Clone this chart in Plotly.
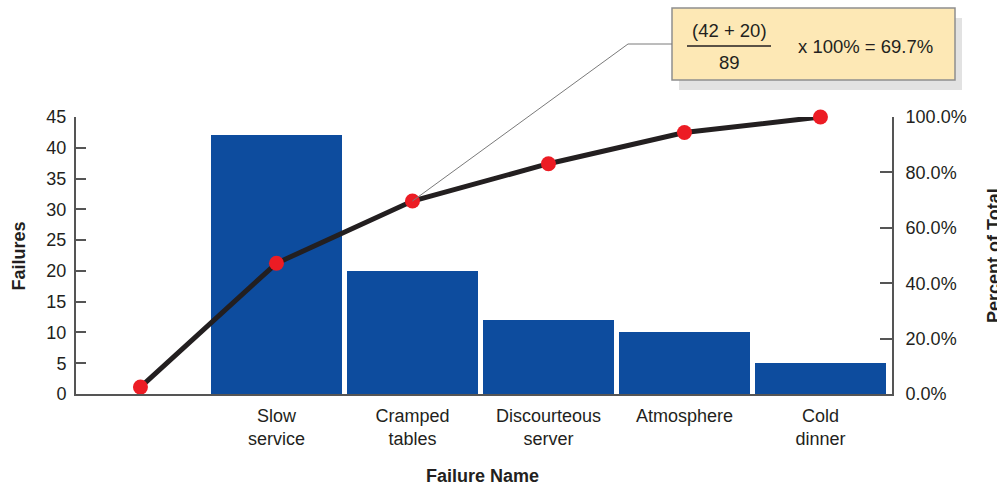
import plotly.graph_objects as go

# Restaurant failure counts (Pareto chart)
categories = ["Slow<br>service", "Cramped<br>tables", "Discourteous<br>server", "Atmosphere", "Cold<br>dinner"]
failures = [42, 20, 12, 10, 5]
start_pct = 2.5  # origin point of the cumulative curve
left_ticks = [0, 5, 10, 15, 20, 25, 30, 35, 40, 45]
right_ticks = [0, 20, 40, 60, 80, 100]

total = sum(failures)
cum_pct = []
running = 0
for v in failures:
    running += v
    cum_pct.append(running / total * 100)

bar_x = list(range(1, len(failures) + 1))
line_x = [0] + bar_x
line_y = [start_pct] + cum_pct

FONT = "Liberation Sans, Arial, Helvetica, sans-serif"
BLUE = "#0d4c9e"
RED = "#ec1c24"
AXIS = "#555555"
TXT = "#231f20"

n_slots = len(line_x)
x_range = [-0.474, n_slots - 0.474]

fig = go.Figure()
fig.add_trace(go.Bar(
    x=bar_x, y=failures, width=0.963, marker=dict(color=BLUE, line=dict(width=0)),
    yaxis="y", showlegend=False, hoverinfo="skip",
))
fig.add_trace(go.Scatter(
    x=line_x, y=line_y, yaxis="y2", mode="lines+markers",
    line=dict(color=TXT, width=5),
    marker=dict(color=RED, size=15, line=dict(width=0)),
    cliponaxis=False, showlegend=False, hoverinfo="skip",
))

fig.update_layout(
    width=997, height=485,
    margin=dict(l=76, r=105, t=117, b=91),
    paper_bgcolor="white", plot_bgcolor="white",
    font=dict(family=FONT, size=18, color=TXT),
    bargap=0,
    xaxis=dict(
        range=x_range, tickvals=bar_x, ticktext=categories,
        showline=True, linecolor=AXIS, linewidth=2, ticks="", showgrid=False,
        zeroline=False, tickfont=dict(size=18), ticklabelstandoff=4,
    ),
    yaxis=dict(
        range=[0, 45], tickvals=left_ticks, showline=True, linecolor=AXIS, linewidth=2,
        ticks="inside", ticklen=10, tickwidth=1.5, tickcolor=AXIS,
        showgrid=False, zeroline=False, tickfont=dict(size=18), ticklabelstandoff=4,
    ),
    yaxis2=dict(
        range=[0, 100], tickvals=right_ticks, ticktext=[f"{t:.1f}%" for t in right_ticks],
        overlaying="y", side="right", showline=True, linecolor=AXIS, linewidth=2,
        ticks="inside", ticklen=12, tickwidth=1.5, tickcolor=AXIS,
        showgrid=False, zeroline=False, tickfont=dict(size=18), ticklabelstandoff=8,
    ),
)

pw, ph = 816.0, 277.0  # plot area size in pixels
def px_x(px):
    return (px - 76) / pw
def px_y(py):
    return (394 - py) / ph

def label(text, x, y, angle=0, size=18):
    fig.add_annotation(text=text, xref="paper", yref="paper", x=x, y=y,
                       xanchor="center", yanchor="middle", textangle=angle,
                       showarrow=False, font=dict(size=size))

# Axis titles
label("<b>Failures</b>", px_x(18.5), px_y(256), angle=-90)
label("<b>Percent of Total</b>", px_x(994), px_y(256), angle=-90)
label("<b>Failure Name</b>", px_x(482), px_y(476))

# Callout explaining the second cumulative point
bx0, bx1, by0, by1 = px_x(672), px_x(955), px_y(80), px_y(8)
sh = dict(xref="paper", yref="paper")
fig.add_shape(type="rect", x0=bx0 + 7 / pw, x1=bx1 + 7 / pw, y0=by0 - 10 / ph, y1=by1 - 10 / ph,
              fillcolor="#e2e2e2", line=dict(width=0), layer="above", **sh)
fig.add_shape(type="rect", x0=bx0, x1=bx1, y0=by0, y1=by1,
              fillcolor="#fde8b5", line=dict(color="#8e8e8e", width=1.5), layer="above", **sh)

# Leader line from the box to the point it describes
target_x = (2 - x_range[0]) / (x_range[1] - x_range[0])
target_y = cum_pct[1] / 100
elbow_x, elbow_y = px_x(628), px_y(44)
fig.add_shape(type="path",
              path=f"M {bx0} {elbow_y} L {elbow_x} {elbow_y} L {target_x} {target_y}",
              line=dict(color="#7a7a7a", width=1), layer="above", **sh)

fig.add_shape(type="line", x0=px_x(687), x1=px_x(771), y0=px_y(46), y1=px_y(46),
              line=dict(color=TXT, width=1.5), layer="above", **sh)
label(f"({failures[0]} + {failures[1]})", px_x(729), px_y(30), size=18.5)
label(f"{total}", px_x(729), px_y(63), size=18.5)
label(f"x 100% = {cum_pct[1]:.1f}%", px_x(865), px_y(47), size=18.5)

fig.write_html("out.html")
